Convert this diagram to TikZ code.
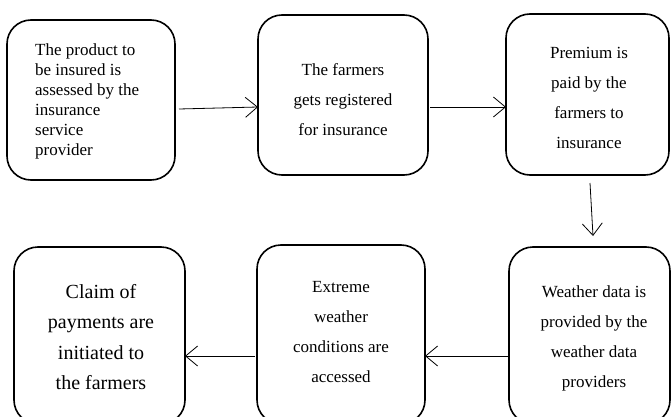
\documentclass[tikz,border=0pt]{standalone}
\usepackage{fontspec}
\setmainfont{Liberation Serif}
\usetikzlibrary{arrows.meta}
\begin{document}
\begin{tikzpicture}[x=1pt,y=-1pt,
  box/.style={draw,line width=1.6pt,rounded corners=24pt},
  txt/.style={font=\fontsize{17}{30}\selectfont,align=center,inner sep=0pt},
  conn/.style={line width=0.8pt,-{Straight Barb[length=12pt,width=20pt,line width=0.8pt]}}]
\useasboundingbox (0,0) rectangle (671,417);
\clip (0,0) rectangle (671,417);
% top row boxes
\draw[box] (7,20) rectangle (175,180);
\coordinate (b1e) at (179,109);
\node[font=\fontsize{17}{20}\selectfont,align=left,anchor=north west,inner sep=0pt] (t1) at (35,44)
  {The product to\\be insured is\\assessed by the\\insurance\\service\\provider};
\draw[box] (258,15) rectangle (428,175);
\coordinate (b2w) at (258,107);
\coordinate (b2e) at (430,107);
\node[txt] (t2) at (343,100) {The farmers\\gets registered\\for insurance};
\draw[box] (506,14) rectangle (669,175);
\coordinate (b3w) at (506,107);
\coordinate (b3s) at (590,183);
\node[txt] (t3) at (589,98) {Premium is\\paid by the\\farmers to\\insurance};
% bottom row boxes
\draw[box] (509,247) rectangle (670,424);
\coordinate (b6n) at (593,236);
\coordinate (b6w) at (509,356);
\node[txt] (t6) at (594,338) {Weather data is\\provided by the\\weather data\\providers};
\draw[box] (257,245) rectangle (425,424);
\coordinate (b5e) at (425,356);
\coordinate (b5w) at (255,356);
\node[txt] (t5) at (341,332) {Extreme\\weather\\conditions are\\accessed};
\draw[box] (14,247) rectangle (185,424);
\coordinate (b4e) at (185,356);
\node[font=\fontsize{20}{30.5}\selectfont,align=center,inner sep=0pt] (t4) at (101,337) {Claim of\\payments are\\initiated to\\the farmers};
% connectors
\draw[conn] (b1e) -- (b2w);
\draw[conn] (b2e) -- (b3w);
\draw[conn] (b3s) -- (b6n);
\draw[conn] (b6w) -- (b5e);
\draw[conn] (b5w) -- (b4e);
\end{tikzpicture}
\end{document}
